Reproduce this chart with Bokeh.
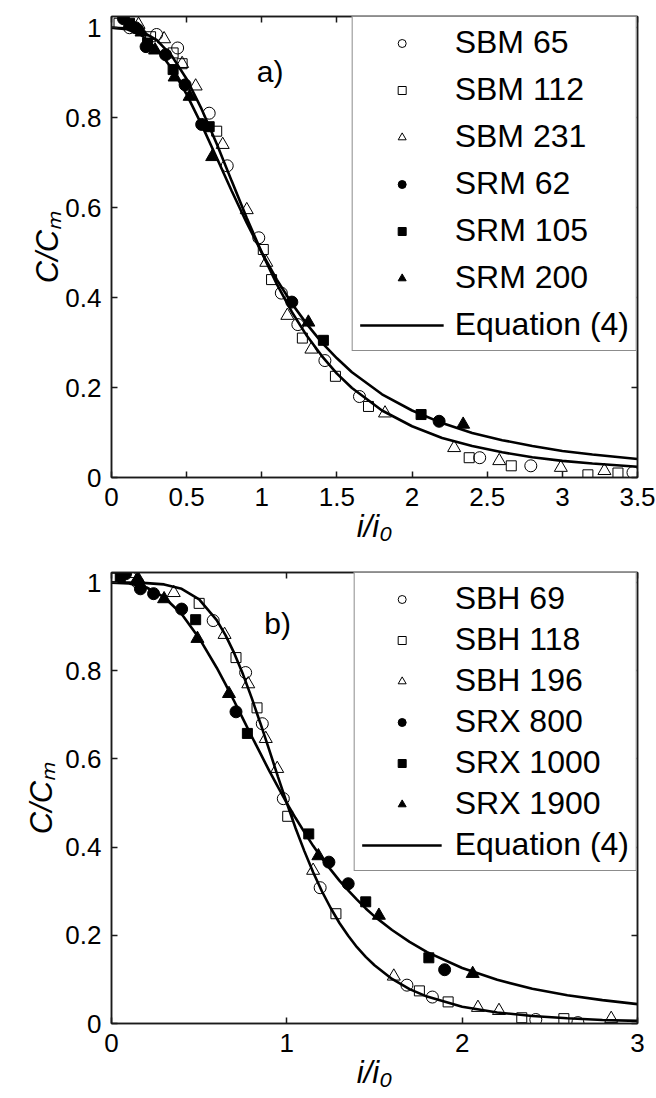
from bokeh.plotting import figure
from bokeh.models import (Range1d, LinearAxis, FixedTicker, Label, Legend, LegendItem,
                          CustomLabelingPolicy)
from bokeh.layouts import column
from bokeh.embed import file_html
from bokeh.resources import INLINE

FONT = "Liberation Sans"

# ---------------- panel a) data ----------------
a_xticks = [0, 0.5, 1, 1.5, 2, 2.5, 3, 3.5]
a_xtick_labels = ["0", "0.5", "1", "1.5", "2", "2.5", "3", "3.5"]
y_ticks = [0, 0.2, 0.4, 0.6, 0.8, 1]
y_tick_labels = ["0", "0.2", "0.4", "0.6", "0.8", "1"]
x_title = "i/i\u2080"
y_title = "C/C\u2098"

sbm65_x = [0.12, 0.30, 0.44, 0.65, 0.77, 0.98, 1.13, 1.24, 1.42, 1.65, 2.45, 2.79, 3.47]
sbm65_y = [1.00, 0.985, 0.955, 0.81, 0.693, 0.533, 0.41, 0.34, 0.26, 0.18, 0.044, 0.026, 0.011]
sbm112_x = [0.05, 0.26, 0.41, 0.47, 0.70, 1.01, 1.065, 1.27, 1.49, 1.71, 2.38, 2.66, 3.17, 3.37]
sbm112_y = [1.01, 0.98, 0.944, 0.92, 0.77, 0.507, 0.44, 0.31, 0.225, 0.158, 0.044, 0.026, 0.006, 0.01]
sbm231_x = [0.18, 0.35, 0.47, 0.56, 0.74, 0.90, 1.03, 1.17, 1.33, 1.82, 2.28, 2.58, 2.99, 3.28]
sbm231_y = [1.007, 0.975, 0.92, 0.87, 0.74, 0.595, 0.478, 0.36, 0.285, 0.143, 0.066, 0.037, 0.022, 0.015]
srm62_x = [0.08, 0.16, 0.23, 0.36, 0.49, 0.60, 1.20, 2.18]
srm62_y = [1.02, 1.00, 0.958, 0.94, 0.873, 0.785, 0.39, 0.125]
srm105_x = [0.12, 0.24, 0.41, 0.65, 1.41, 2.06]
srm105_y = [1.01, 0.966, 0.907, 0.78, 0.305, 0.14]
srm200_x = [0.20, 0.29, 0.42, 0.52, 0.67, 1.31, 2.34]
srm200_y = [0.99, 0.95, 0.89, 0.847, 0.713, 0.345, 0.118]

a_curve_x = [0, 0.1, 0.2, 0.3, 0.4, 0.5, 0.6, 0.7, 0.8, 0.9, 1.0, 1.1, 1.2, 1.3,
             1.4, 1.5, 1.6, 1.8, 2.0, 2.2, 2.4, 2.6, 2.8, 3.0, 3.2, 3.5]
a_curve_sbm = [1.0, 0.999, 0.992, 0.973, 0.938, 0.886, 0.819, 0.742, 0.659, 0.577, 0.5,
               0.430, 0.368, 0.315, 0.270, 0.231, 0.199, 0.149, 0.114, 0.088, 0.070,
               0.056, 0.045, 0.037, 0.031, 0.024]
a_curve_srm = [1.0, 0.997, 0.983, 0.954, 0.910, 0.852, 0.784, 0.711, 0.637, 0.566, 0.5,
               0.440, 0.387, 0.341, 0.300, 0.265, 0.234, 0.185, 0.149, 0.121, 0.099,
               0.083, 0.070, 0.059, 0.051, 0.041]

# ---------------- panel b) data ----------------
b_xticks = [0, 1, 2, 3]
b_xtick_labels = ["0", "1", "2", "3"]

sbh69_x = [0.15, 0.58, 0.765, 0.86, 0.98, 1.19, 1.685, 1.83, 2.42, 2.66]
sbh69_y = [1.00, 0.914, 0.796, 0.68, 0.51, 0.308, 0.087, 0.06, 0.009, 0.002]
sbh118_x = [0.02, 0.50, 0.71, 0.83, 1.005, 1.28, 1.756, 1.92, 2.34, 2.58]
sbh118_y = [1.01, 0.953, 0.83, 0.716, 0.47, 0.249, 0.074, 0.049, 0.013, 0.011]
sbh196_x = [0.11, 0.355, 0.645, 0.78, 0.88, 0.945, 1.15, 1.61, 2.09, 2.21, 2.85]
sbh196_y = [1.02, 0.977, 0.882, 0.77, 0.646, 0.578, 0.347, 0.107, 0.036, 0.029, 0.011]
srx800_x = [0.08, 0.165, 0.24, 0.40, 0.71, 1.24, 1.35, 1.90]
srx800_y = [1.02, 0.986, 0.975, 0.94, 0.707, 0.366, 0.317, 0.122]
srx1000_x = [0.05, 0.48, 0.775, 1.125, 1.45, 1.81]
srx1000_y = [1.01, 0.916, 0.658, 0.43, 0.276, 0.149]
srx1900_x = [0.15, 0.30, 0.49, 0.67, 1.18, 1.525, 2.06]
srx1900_y = [1.01, 0.963, 0.873, 0.748, 0.38, 0.245, 0.113]

b_curve_x = [0, 0.1, 0.2, 0.3, 0.4, 0.5, 0.6, 0.65, 0.7, 0.75, 0.8, 0.85, 0.9, 0.95,
             1.0, 1.05, 1.1, 1.15, 1.2, 1.25, 1.3, 1.35, 1.4, 1.45, 1.5, 1.6, 1.7, 1.8,
             2.0, 2.2, 2.4, 2.6, 2.8, 3.0]
b_curve_sbh = [1.0, 1.0, 0.999, 0.996, 0.986, 0.962, 0.915, 0.881, 0.840, 0.792, 0.738,
               0.680, 0.620, 0.559, 0.5, 0.443, 0.391, 0.343, 0.300, 0.262, 0.228, 0.199,
               0.173, 0.151, 0.132, 0.101, 0.078, 0.061, 0.038, 0.025, 0.017, 0.012,
               0.008, 0.006]
b_curve_srx = [1.0, 0.998, 0.989, 0.967, 0.929, 0.874, 0.807, 0.770, 0.731, 0.691, 0.651,
               0.612, 0.573, 0.536, 0.5, 0.466, 0.434, 0.403, 0.375, 0.349, 0.324, 0.302,
               0.281, 0.261, 0.243, 0.212, 0.185, 0.162, 0.126, 0.099, 0.079, 0.064,
               0.053, 0.044]

LINE_C = "#1a1a1a"
HIDE_LABELS = """
for (const i of Array.from(indices)) { indices.unset(i) }
return indices
"""


def make_panel(width, height, xmax, ymax, xticks, xlabels, borders, xlab_standoff, ylab_standoff):
    bl, br, bt, bb = borders
    p = figure(width=width, height=height, x_range=Range1d(0, xmax), y_range=Range1d(0, ymax),
               output_backend="svg", toolbar_location=None,
               min_border_left=bl, min_border_right=br, min_border_top=bt, min_border_bottom=bb,
               x_axis_label=x_title, y_axis_label=y_title)
    p.grid.visible = False
    p.background_fill_color = "white"
    p.border_fill_color = "white"
    p.outline_line_color = LINE_C
    p.outline_line_width = 1.5

    for ax, ticks, labels in ((p.xaxis[0], xticks, xlabels), (p.yaxis[0], y_ticks, y_tick_labels)):
        ax.ticker = FixedTicker(ticks=ticks)
        ax.major_label_overrides = dict(zip(ticks, labels))
        ax.major_tick_in = 6
        ax.major_tick_out = 0
        ax.minor_tick_line_color = None
        ax.axis_line_color = LINE_C
        ax.axis_line_width = 1.5
        ax.major_tick_line_color = LINE_C
        ax.major_tick_line_width = 1.5
        ax.major_label_text_font = FONT
        ax.major_label_text_font_size = "26px"
        ax.major_label_text_color = "black"
        ax.major_label_standoff = 10
        ax.axis_label_text_font = FONT
        ax.axis_label_text_font_size = "31px"
        ax.axis_label_text_font_style = "italic"
        ax.axis_label_text_color = "black"
    p.xaxis[0].axis_label_standoff = xlab_standoff
    p.yaxis[0].axis_label_standoff = ylab_standoff

    for loc, ticks in (("above", xticks), ("right", y_ticks)):
        ax = LinearAxis(ticker=FixedTicker(ticks=ticks), major_tick_in=6, major_tick_out=0,
                        minor_tick_line_color=None, major_label_text_font_size="1px",
                        major_label_policy=CustomLabelingPolicy(code=HIDE_LABELS),
                        major_label_standoff=0, axis_line_color=LINE_C, axis_line_width=1.5,
                        major_tick_line_color=LINE_C, major_tick_line_width=1.5)
        p.add_layout(ax, loc)
    return p


def add_series(p, curve_x, curves, series, spacing, padding, glyph_w, standoff, tag, tag_xy):
    lines = []
    for cy in curves:
        lines.append(p.line(curve_x, cy, line_color="black", line_width=2.6))
    items = []
    for label, xs, ys, marker, filled, size in series:
        r = p.scatter(xs, ys, marker=marker, size=size, line_color="black", line_width=1,
                      fill_color="black" if filled else None)
        items.append(LegendItem(label=label, renderers=[r]))
    items.append(LegendItem(label="Equation (4)", renderers=[lines[0]]))
    leg = Legend(items=items, location="top_right", margin=0, padding=padding,
                 spacing=spacing, glyph_width=glyph_w, glyph_height=20, label_height=20,
                 label_standoff=standoff, label_text_font=FONT, label_text_font_size="32px",
                 label_text_color="black", border_line_color=LINE_C, border_line_width=1.5,
                 background_fill_color="white", background_fill_alpha=1.0)
    p.add_layout(leg)
    p.add_layout(Label(x=tag_xy[0], y=tag_xy[1], text=tag, text_font=FONT, text_font_size="30px",
                       text_align="center", text_baseline="middle", text_color="black"))


# page origin is (0, 0): frame a) spans x 100..637, y 16..477
pa = make_panel(656, 552, 3.5, 1.025, a_xticks, a_xtick_labels, (100, 19, 16, 75), 0, -3)
add_series(pa, a_curve_x, [a_curve_sbm, a_curve_srm], [
    ("SBM 65", sbm65_x, sbm65_y, "circle", False, 12),
    ("SBM 112", sbm112_x, sbm112_y, "square", False, 10),
    ("SBM 231", sbm231_x, sbm231_y, "triangle", False, 13),
    ("SRM 62", srm62_x, srm62_y, "circle", True, 12),
    ("SRM 105", srm105_x, srm105_y, "square", True, 10),
    ("SRM 200", srm200_x, srm200_y, "triangle", True, 13),
], 10, 7, 84, 11, "a)", (1.056, 0.902))

# frame b) spans x 111..637, y 572..1023
pb = make_panel(656, 545, 3.0, 1.023, b_xticks, b_xtick_labels, (111, 19, 20, 74), 0, 3)
add_series(pb, b_curve_x, [b_curve_sbh, b_curve_srx], [
    ("SBH 69", sbh69_x, sbh69_y, "circle", False, 12),
    ("SBH 118", sbh118_x, sbh118_y, "square", False, 10),
    ("SBH 196", sbh196_x, sbh196_y, "triangle", False, 13),
    ("SRX 800", srx800_x, srx800_y, "circle", True, 12),
    ("SRX 1000", srx1000_x, srx1000_y, "square", True, 10),
    ("SRX 1900", srx1900_x, srx1900_y, "triangle", True, 13),
], 4, 7, 80, 13, "b)", (0.947, 0.907))

layout = column(pa, pb, spacing=0)
open("out.html", "w").write(file_html(layout, INLINE))
